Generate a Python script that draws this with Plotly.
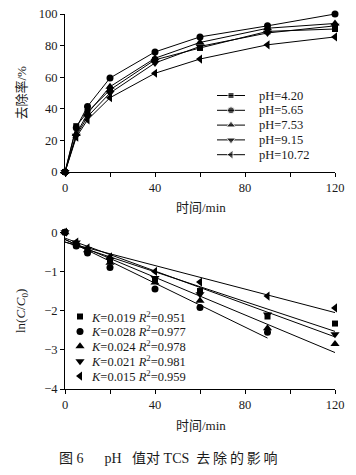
import plotly.graph_objects as go

# ---------------- data ----------------
time = [0, 5, 10, 20, 40, 60, 90, 120]
labels = ["pH=4.20", "pH=5.65", "pH=7.53", "pH=9.15", "pH=10.72"]
symbols = ["square", "circle", "triangle-up", "triangle-down", "triangle-left"]

removal_420 = [0, 29, 38, 52, 71, 78.5, 89, 90.5]
removal_565 = [0, 28, 41.5, 59.5, 76, 85.5, 92.5, 100]
removal_753 = [0, 24, 37, 54, 72, 82, 91, 94]
removal_915 = [0, 23, 35, 50, 69, 79.5, 88, 92.5]
removal_1072 = [0, 22, 33, 47, 62.5, 71.5, 80.5, 85.5]

ln_420 = [0, -0.33, -0.45, -0.70, -1.20, -1.50, -2.15, -2.33]
ln_565 = [0, -0.35, -0.53, -0.90, -1.45, -1.92, -2.55]
ln_753 = [0, -0.28, -0.46, -0.78, -1.28, -1.75, -2.45, -2.85]
ln_915 = [0, -0.26, -0.43, -0.70, -1.17, -1.58, -2.10, -2.60]
ln_1072 = [0, -0.25, -0.40, -0.63, -1.00, -1.27, -1.63, -1.93]

fit_K = [0.019, 0.028, 0.024, 0.021, 0.015]
fit_R2 = [0.951, 0.977, 0.978, 0.981, 0.959]
fit_b = [-0.25, -0.18, -0.19, -0.15, -0.25]
fit_xend = [120, 90, 120, 120, 120]

removal = [removal_420, removal_565, removal_753, removal_915, removal_1072]
lnc = [ln_420, ln_565, ln_753, ln_915, ln_1072]

# ---------------- layout helpers ----------------
W, H = 356, 475
FONT = "Liberation Serif, Times New Roman, Noto Sans CJK SC"
TXT = "#1a1a1a"


def fx(p):
    return p / W


def fy(p):
    return 1 - p / H


msize = {"square": 6, "circle": 7, "triangle-up": 8, "triangle-down": 8, "triangle-left": 8}

fig = go.Figure()

# top: removal curves
for name, sym, ys in zip(labels, symbols, removal):
    fig.add_trace(go.Scatter(
        x=time[:len(ys)], y=ys, name=name, mode="lines+markers",
        line=dict(color="black", width=1),
        marker=dict(symbol=sym, size=msize[sym], color="black"),
        cliponaxis=False, xaxis="x", yaxis="y", showlegend=False,
    ))

# bottom: ln(C/C0) points
for sym, ys in zip(symbols, lnc):
    fig.add_trace(go.Scatter(
        x=time[:len(ys)], y=ys, mode="markers",
        marker=dict(symbol=sym, size=msize[sym], color="black"),
        cliponaxis=False, xaxis="x2", yaxis="y2", showlegend=False,
    ))

# bottom: first-order fit lines
for K, b, xe in zip(fit_K, fit_b, fit_xend):
    fig.add_trace(go.Scatter(
        x=[0, xe], y=[b, b - K * xe], mode="lines",
        line=dict(color="black", width=1), showlegend=False,
        xaxis="x2", yaxis="y2", cliponaxis=False,
    ))

# ---------------- hand-made legends (pixel overlay axes x3/y3) ----------------
TOP_LEG = dict(x0=217, x1=245, text_x=257, row0=95.5, step=14.8)
BOT_LEG = dict(mark_x=80, text_x=89, row0=316.5, step=14.9)

for i, (name, sym) in enumerate(zip(labels, symbols)):
    ry = TOP_LEG["row0"] + i * TOP_LEG["step"]
    xm = (TOP_LEG["x0"] + TOP_LEG["x1"]) / 2
    fig.add_trace(go.Scatter(
        x=[TOP_LEG["x0"], xm, TOP_LEG["x1"]], y=[ry, ry, ry],
        mode="lines+markers", line=dict(color="black", width=1),
        marker=dict(symbol=sym, size=[0, msize[sym], 0], color="black"),
        xaxis="x3", yaxis="y3", showlegend=False, hoverinfo="skip",
        cliponaxis=False,
    ))
    fig.add_annotation(text=name, x=TOP_LEG["text_x"], y=ry, xref="x3", yref="y3",
                       xanchor="left", yanchor="middle", showarrow=False,
                       font=dict(family=FONT, size=12.5, color=TXT))

for i, (sym, K, R2) in enumerate(zip(symbols, fit_K, fit_R2)):
    ry = BOT_LEG["row0"] + i * BOT_LEG["step"]
    fig.add_trace(go.Scatter(
        x=[BOT_LEG["mark_x"]], y=[ry], mode="markers",
        marker=dict(symbol=sym, size=msize[sym], color="black"),
        xaxis="x3", yaxis="y3", showlegend=False, hoverinfo="skip",
        cliponaxis=False,
    ))
    fig.add_annotation(text=f"<i>K</i>={K:.3f} <i>R</i><sup>2</sup>={R2:.3f}",
                       x=BOT_LEG["text_x"], y=ry, xref="x3", yref="y3",
                       xanchor="left", yanchor="middle", showarrow=False,
                       font=dict(family=FONT, size=12.5, color=TXT))

axis_common = dict(
    showline=True, linecolor="black", linewidth=1, mirror=False,
    showgrid=False, zeroline=False, ticks="outside", ticklen=4,
    tickcolor="black", tickwidth=1, automargin=False,
    tickfont=dict(family=FONT, size=12.5, color=TXT),
)
x_axis = dict(range=[0, 120], tick0=0, dtick=40,
              minor=dict(dtick=20, ticks="outside", ticklen=4, tickcolor="black",
                         tickwidth=1, showgrid=False),
              **axis_common)

fig.update_layout(
    width=W, height=H,
    margin=dict(l=0, r=0, t=0, b=0, autoexpand=False),
    paper_bgcolor="white", plot_bgcolor="rgba(0,0,0,0)",
    template="none",
    font=dict(family=FONT, size=12.5, color=TXT),
    xaxis=dict(domain=[fx(65), fx(335)], anchor="y", **x_axis),
    yaxis=dict(domain=[fy(172), fy(14)], range=[0, 100], anchor="x",
               tick0=0, dtick=20, **axis_common),
    xaxis2=dict(domain=[fx(65), fx(335)], anchor="y2", **x_axis),
    yaxis2=dict(domain=[fy(389), fy(229.5)], range=[-4, 0.07], anchor="x2",
                tickvals=[0, -1, -2, -3, -4], **axis_common),
    xaxis3=dict(domain=[0, 1], range=[0, W], anchor="y3", visible=False,
                fixedrange=True, automargin=False),
    yaxis3=dict(domain=[0, 1], range=[H, 0], anchor="x3", visible=False,
                fixedrange=True, automargin=False),
    showlegend=False,
)

TS = "\u2009"  # thin space used to spread the caption characters
caption = ("图 6\u2003\u2002pH\u2002 值对 TCS\u2002"
           + TS.join("去除的影响"))

annots = [
    dict(text="时间/min", x=fx(201), y=fy(207), size=13, angle=0, anchor="center"),
    dict(text="时间/min", x=fx(201), y=fy(425), size=13, angle=0, anchor="center"),
    dict(text="去除率/%", x=fx(21), y=fy(92.5), size=13, angle=-90, anchor="center"),
    dict(text="ln(<i>C</i>/<i>C</i><sub>0</sub>)", x=fx(21), y=fy(311), size=13, angle=-90,
         anchor="center"),
    dict(text=caption, x=fx(57), y=fy(458), size=14, angle=0, anchor="left"),
]
for a in annots:
    fig.add_annotation(
        text=a["text"], x=a["x"], y=a["y"], xref="paper", yref="paper",
        xanchor=a["anchor"], yanchor="middle", showarrow=False,
        textangle=a["angle"], font=dict(family=FONT, size=a["size"], color=TXT),
    )

fig.write_html(
    "out.html",
    config={"displayModeBar": False},
    post_script="document.body.style.margin='0';document.body.style.overflow='hidden';",
)
